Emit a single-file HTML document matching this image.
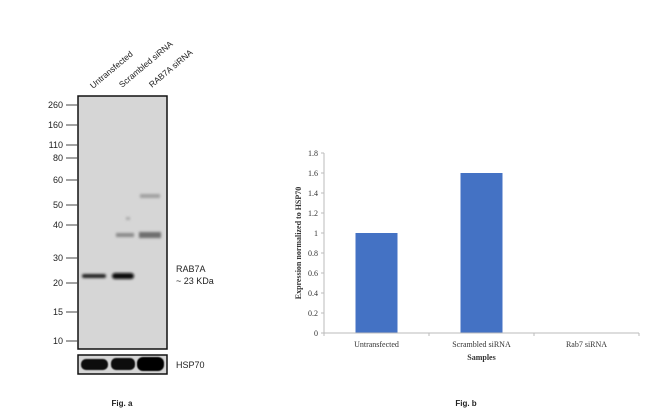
<!DOCTYPE html>
<html><head><meta charset="utf-8"><style>
body{margin:0;background:#fff;}
svg{display:block;font-family:"Liberation Sans",sans-serif;}
.serif{font-family:"Liberation Serif",serif;}
</style></head><body>
<svg width="650" height="417" viewBox="0 0 650 417">
<defs>
<filter id="blur1"><feGaussianBlur stdDeviation="1.2"/></filter>
<filter id="blur2"><feGaussianBlur stdDeviation="0.6"/></filter>
</defs>
<!-- Western blot -->
<g>
  <rect x="78" y="96" width="89" height="253" fill="#d6d6d6" stroke="#111" stroke-width="1.5"/>
  <g id="markers" font-size="9" fill="#222"></g>
  <g filter="url(#blur1)">
    <rect x="82" y="274" width="24" height="4" rx="2" fill="#222"/>
    <rect x="112" y="273" width="22" height="6" rx="3" fill="#0a0a0a"/>
    <rect x="116" y="233" width="18" height="4" fill="#8a8a8a"/>
    <rect x="139" y="232" width="22" height="6" fill="#6d6d6d"/>
    <rect x="140" y="194" width="20" height="4" fill="#a0a0a0"/>
    <rect x="126" y="217" width="4" height="3" fill="#aaa"/>
  </g>
  <rect x="78" y="355" width="89" height="19" fill="#d6d6d6" stroke="#111" stroke-width="1.5"/>
  <g filter="url(#blur2)">
    <rect x="81" y="359" width="27" height="11" rx="5" fill="#0a0a0a"/>
    <rect x="111" y="358" width="24" height="12" rx="5" fill="#0a0a0a"/>
    <rect x="137" y="357" width="27" height="14" rx="6" fill="#050505"/>
  </g>
  <g font-size="8.5" fill="#222">
    <text transform="translate(93,89) rotate(-40)">Untransfected</text>
    <text transform="translate(122,88) rotate(-40)">Scrambled siRNA</text>
    <text transform="translate(152,88) rotate(-40)">RAB7A siRNA</text>
  </g>
  <text x="176" y="272" font-size="9" fill="#222">RAB7A</text>
  <text x="176" y="284" font-size="9" fill="#222">~ 23 KDa</text>
  <text x="176" y="368" font-size="9" fill="#222">HSP70</text>
  <text x="122" y="406" font-size="8" font-weight="bold" fill="#222" text-anchor="middle">Fig. a</text>
</g>
<!-- Bar chart -->
<g id="chart"></g>
<text x="466" y="406" font-size="8" font-weight="bold" fill="#222" text-anchor="middle">Fig. b</text>
</svg>
<script>
const markerLabels=["260","160","110","80","60","50","40","30","20","15","10"];
const markerY=[105,125,145,158,180,205,225,258,283,312,341];
const categories=["Untransfected","Scrambled siRNA","Rab7 siRNA"];
const values=[1.0,1.6,0.0];
const yTicks=[0,0.2,0.4,0.6,0.8,1,1.2,1.4,1.6,1.8];
const NS="http://www.w3.org/2000/svg";
function mk(tag,attrs,parent,txt){const e=document.createElementNS(NS,tag);for(const k in attrs)e.setAttribute(k,attrs[k]);if(txt!==undefined)e.textContent=txt;parent.appendChild(e);return e;}
const mg=document.getElementById('markers');
markerLabels.forEach((l,i)=>{
  const t=mk('text',{x:63,y:markerY[i]+3,'text-anchor':'end'},mg,l);
  
  
  const ln=mk('line',{x1:66,x2:78,y1:markerY[i],y2:markerY[i],stroke:'#444','stroke-width':1},mg);
  
  
});
const g=document.getElementById('chart');
const x0=324,x1=639,y0=333,yMax=1.8,yTop=153;
const y=v=>y0-(v/yMax)*(y0-yTop);
const bw=(x1-x0)/categories.length;
const xc=i=>x0+bw*(i+0.5);
const ya=mk('line',{x1:x0,x2:x0,y1:yTop,y2:y0,stroke:'#bbb'},g);

yTicks.forEach(v=>{
  const t=mk('text',{x:x0-6,y:y(v)+3,'text-anchor':'end','font-size':8,fill:'#333',class:'serif'},g,String(v));
  
  
  const tk=mk('line',{x1:x0-3,x2:x0,y1:y(v),y2:y(v),stroke:'#bbb'},g);
  
  
});
categories.forEach((c,i)=>{
  const h=y0-y(values[i]);
  const b=mk('rect',{x:xc(i)-21,y:y(values[i]),width:42,height:h,fill:'#4472c4'},g);
  
  
  const t=mk('text',{x:xc(i),y:y0+14,'text-anchor':'middle','font-size':8,fill:'#333',class:'serif'},g,c);
  
  
});
for(let i=0;i<=categories.length;i++){
  const tk=mk('line',{x1:x0+bw*i,x2:x0+bw*i,y1:y0,y2:y0+3,stroke:'#bbb'},g);
  
  
}
const xa=mk('line',{x1:x0,x2:x1,y1:y0,y2:y0,stroke:'#bbb'},g);

const xt=mk('text',{x:(x0+x1)/2,y:y0+27,'text-anchor':'middle','font-size':8,'font-weight':'bold',fill:'#333',class:'serif'},g,'Samples');

const yt=mk('text',{transform:'translate(301,243) rotate(-90)','text-anchor':'middle','font-size':8,'font-weight':'bold',fill:'#333',class:'serif'},g,'Expression normalized to HSP70');

</script>
</body></html>
